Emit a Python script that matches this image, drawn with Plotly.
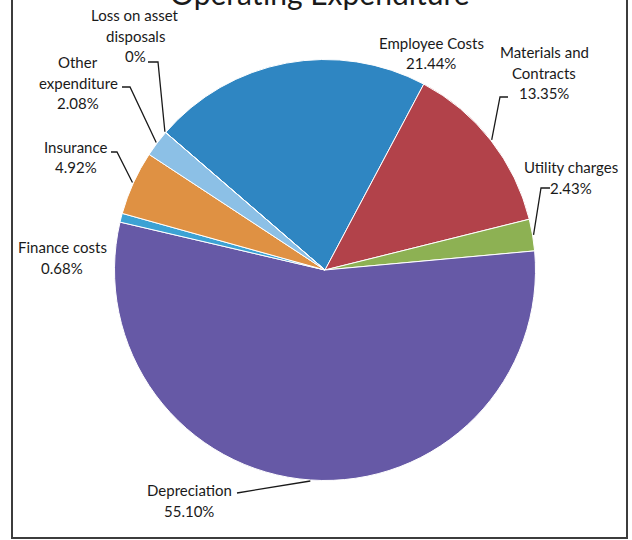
import math
import plotly.graph_objects as go

# ---- data ----
categories = ["Employee Costs", "Materials and Contracts", "Utility charges", "Depreciation",
              "Finance costs", "Insurance", "Other expenditure", "Loss on asset disposals"]
values = [21.44, 13.35, 2.43, 55.10, 0.68, 4.92, 2.08, 0.0]
colors = ["#2f86c2", "#b2424a", "#8db153", "#6659a6", "#3ca2d4", "#df9143", "#8cc0e6", "#8cc0e6"]
label_lines = {
    "Employee Costs": ["Employee Costs"],
    "Materials and Contracts": ["Materials and", "Contracts"],
    "Utility charges": ["Utility charges"],
    "Depreciation": ["Depreciation"],
    "Finance costs": ["Finance costs"],
    "Insurance": ["Insurance"],
    "Other expenditure": ["Other", "expenditure"],
    "Loss on asset disposals": ["Loss on asset", "disposals"],
}
title_text = "Operating Expenditure"

# ---- layout constants ----
W, H = 632, 540
CX, CY, R = 325.0, 270.0, 210.5
ROTATION = -49.2
FONT = "Lato"
FS = 15
LINE_H = 20.5

# label block placement: (center x, y of first line center)
label_pos = {
    "Employee Costs": (431, 43),
    "Materials and Contracts": (544, 52),
    "Utility charges": (571, 167),
    "Depreciation": (189, 490),
    "Finance costs": (62, 247),
    "Insurance": (76, 147),
    "Other expenditure": (78, 62),
    "Loss on asset disposals": (135, 15),
}
# leader lines: list of pixel points near the label; the last point goes to the slice edge
leader_pts = {
    "Materials and Contracts": [(508, 97), (500, 97)],
    "Utility charges": [(550, 188), (541, 188)],
    "Depreciation": [(237, 493)],
    "Insurance": [(111, 152), (117, 152)],
    "Other expenditure": [(122, 87), (130, 87)],
    "Loss on asset disposals": [(148, 62), (158, 62)],
}


def px(x):
    return x / W


def py(y):
    return 1 - y / H


def fmt(v):
    return "0%" if v == 0 else f"{v:.2f}%"


fig = go.Figure()
fig.add_trace(go.Pie(
    labels=categories, values=values, sort=False, direction="clockwise",
    rotation=ROTATION, textinfo="none", hoverinfo="label+percent",
    marker=dict(colors=colors, line=dict(color="white", width=1)),
    domain=dict(x=[px(CX - R), px(CX + R)], y=[py(CY + R), py(CY - R)]),
    showlegend=False,
))

annotations = []
shapes = []

total = sum(values)
cum = 0.0
for cat, v in zip(categories, values):
    start = ROTATION + cum / total * 360
    cum += v
    end = ROTATION + cum / total * 360
    mid = math.radians((start + end) / 2)
    ex = CX + (R + 1) * math.sin(mid)
    ey = CY - (R + 1) * math.cos(mid)

    lines = label_lines[cat] + [fmt(v)]
    lx, ly = label_pos[cat]
    for i, t in enumerate(lines):
        annotations.append(dict(
            x=px(lx), y=py(ly + i * LINE_H), xref="paper", yref="paper",
            text=t, showarrow=False, xanchor="center", yanchor="middle",
            font=dict(family=FONT, size=FS, color="#1a1a1a"),
        ))
    if cat in leader_pts:
        pts = leader_pts[cat] + [(ex, ey)]
        path = "M " + " L ".join(f"{px(x):.5f},{py(y):.5f}" for x, y in pts)
        shapes.append(dict(type="path", path=path, xref="paper", yref="paper",
                           line=dict(color="#1a1a1a", width=1.3)))

# title (clipped at top, as in the scan)
annotations.append(dict(
    x=px(320), y=py(13), xref="paper", yref="paper", text=title_text,
    showarrow=False, xanchor="center", yanchor="bottom",
    font=dict(family=FONT, size=30, color="#1a1a1a"),
))

# chart frame (top edge cut off)
frame = f"M {px(12)},{py(-5)} L {px(12)},{py(538)} L {px(627)},{py(538)} L {px(627)},{py(-5)}"
shapes.append(dict(type="path", path=frame, xref="paper", yref="paper",
                   line=dict(color="#3c3c3c", width=2)))

fig.update_layout(
    width=W, height=H, margin=dict(l=0, r=0, t=0, b=0),
    paper_bgcolor="white", plot_bgcolor="white",
    annotations=annotations, shapes=shapes,
)

fig.write_html("out.html")
